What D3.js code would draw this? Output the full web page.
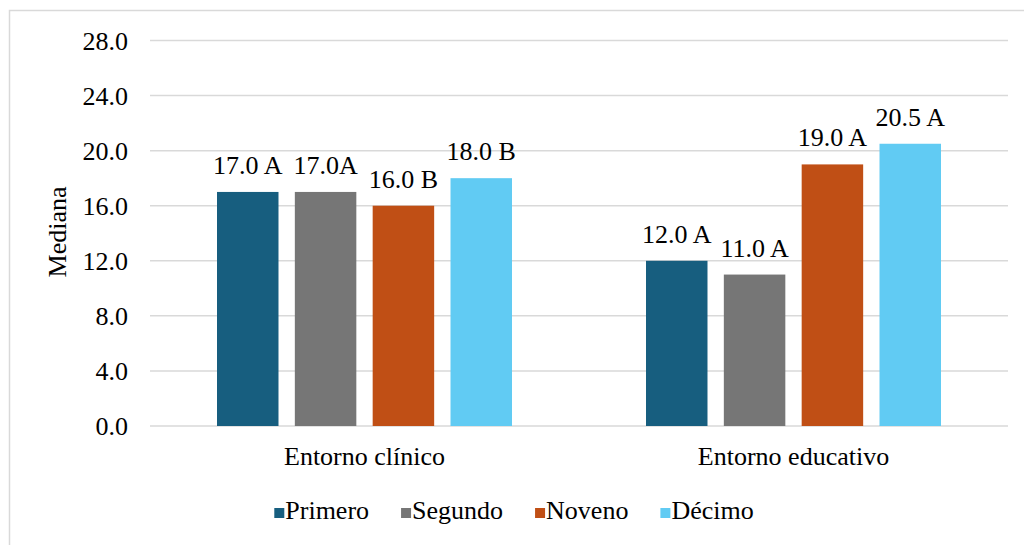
<!DOCTYPE html>
<html><head><meta charset="utf-8">
<script src="https://cdn.jsdelivr.net/npm/d3@7"></script>
<style>body{margin:0;background:#fff}svg{display:block}</style>
</head><body>
<script>
const categories = ["Entorno clínico", "Entorno educativo"];
const seriesNames = ["Primero", "Segundo", "Noveno", "Décimo"];
const primero = [17.0, 12.0];
const segundo = [17.0, 11.0];
const noveno = [16.0, 19.0];
const decimo = [18.0, 20.5];
const primeroLabels = ["17.0 A", "12.0 A"];
const segundoLabels = ["17.0A", "11.0 A"];
const novenoLabels = ["16.0 B", "19.0 A"];
const decimoLabels = ["18.0 B", "20.5 A"];
const yTicks = [0, 4, 8, 12, 16, 20, 24, 28];
const colors = ["#175E7F", "#767676", "#C04F15", "#61CBF3"];

const W = 1024, H = 545, FS = 26, FF = '"Liberation Serif", "Times New Roman", Tinos, serif';
const svg = d3.select("body").append("svg").attr("width", W).attr("height", H);
svg.append("path").attr("d", `M9.5,${H} L9.5,10.5 L${W},10.5`).attr("fill","none").attr("stroke","#d9d9d9").attr("stroke-width",1.5);

const plotL = 150, plotR = 1008;
const y = d3.scaleLinear().domain([0, 28]).range([426, 40.5]);
const x0 = d3.scaleBand().domain(categories).range([plotL, plotR]);
const bw = x0.bandwidth();
const x1 = d3.scaleBand().domain(seriesNames).range([67, bw - 67]).paddingInner(0.21);

const g = svg.append("g");
g.selectAll("line.grid").data(yTicks).join("line")
  .attr("x1", plotL).attr("x2", plotR)
  .attr("y1", d => y(d)).attr("y2", d => y(d))
  .attr("stroke", "#d9d9d9").attr("stroke-width", 1.5);

const yAxis = d3.axisLeft(y).tickValues(yTicks).tickFormat(d3.format(".1f")).tickSize(0).tickPadding(0);
const ya = svg.append("g").attr("transform", "translate(128,0)").call(yAxis);
ya.select(".domain").remove();
ya.selectAll("text").style("font-family", FF).style("font-size", FS + "px").attr("fill","#000").attr("dy","0.34em");

const seriesVals = [primero, segundo, noveno, decimo];
const seriesLabs = [primeroLabels, segundoLabels, novenoLabels, decimoLabels];
const rows = [];
seriesNames.forEach((s, si) => categories.forEach((c, ci) => rows.push({s, c, v: seriesVals[si][ci], lab: seriesLabs[si][ci], col: colors[si]})));

g.selectAll("rect.bar").data(rows).join("rect")
  .attr("x", d => x0(d.c) + x1(d.s))
  .attr("width", x1.bandwidth())
  .attr("y", d => y(d.v))
  .attr("height", d => y(0) - y(d.v))
  .attr("fill", d => d.col);

g.selectAll("text.lab").data(rows).join("text")
  .attr("x", d => x0(d.c) + x1(d.s) + x1.bandwidth()/2)
  .attr("y", d => y(d.v) - 18)
  .attr("text-anchor", "middle")
  .style("font-family", FF).style("font-size", FS + "px").attr("fill","#000")
  .text(d => d.lab);

const xAxis = d3.axisBottom(x0).tickSize(0).tickPadding(0);
const xa = svg.append("g").attr("transform", "translate(0,465)").call(xAxis);
xa.select(".domain").remove();
xa.selectAll("text").style("font-family", FF).style("font-size", FS + "px").attr("fill","#000").attr("dy","0");

svg.append("text").attr("transform", "translate(66,232) rotate(-90)")
  .attr("text-anchor", "middle").style("font-family", FF).style("font-size", FS + "px").attr("fill","#000").text("Mediana");

// legend: square + text, laid out by measured text widths, centred
const leg = svg.append("g");
const items = seriesNames.map((s, i) => {
  const it = leg.append("g");
  it.append("rect").attr("x", 0).attr("y", 508).attr("width", 10).attr("height", 10).attr("fill", colors[i]);
  const t = it.append("text").attr("x", 11).attr("y", 519).style("font-family", FF).style("font-size", FS + "px").attr("fill","#000").text(s);
  return {it, w: 11 + t.node().getComputedTextLength()};
});
const gap = 32;
const total = d3.sum(items, d => d.w) + gap * (items.length - 1);
let cx = 514 - total / 2;
items.forEach(d => { d.it.attr("transform", `translate(${cx},0)`); cx += d.w + gap; });
</script>
</body></html>
